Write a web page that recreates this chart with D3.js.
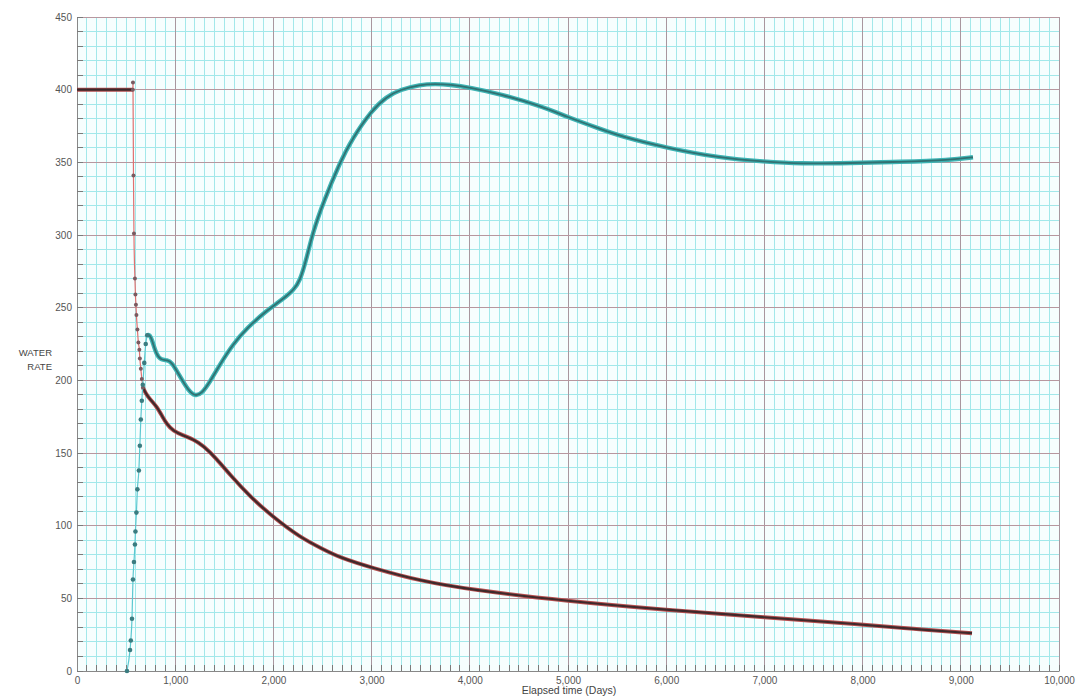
<!DOCTYPE html>
<html><head><meta charset="utf-8">
<script src="https://cdn.jsdelivr.net/npm/d3@7"></script>
<style>body{margin:0;background:#fff;}svg{display:block;font-family:"Liberation Sans",Arial,sans-serif;}</style>
</head><body><svg id="c" width="1079" height="696"></svg>
<script>
// ---- data ----
const xTickValues = [0,1000,2000,3000,4000,5000,6000,7000,8000,9000,10000];
const yTickValues = [0,50,100,150,200,250,300,350,400,450];
const xTitle = "Elapsed time (Days)";
const yTitle = ["WATER","RATE"];

// red / brown series
const redDays = [0,569,570,575,580,590,595,600,605,615,625,635,640,650,660,672,700,743,812,870,914,980,1083,1185,1287,1422,1558,1762,1996,2271,2500,2678,3004,3493,4002,5000,6000,7000,8000,8500,9114];
const redRate = [400,400,405,341,301,270,259,252,245,235,226,221,215,208,201,195,191,187,182,175,170,165,162,159.5,155,146,135,120,106,92,84,78,71,62,56,48,42,37,32,29,26];

// cyan series
const cyanDays = [509,540,548,560,570,580,590,595,605,615,630,640,650,660,670,685,700,715,735,760,810,860,920,965,1046,1134,1202,1273,1354,1456,1590,1729,1933,2037,2135,2200,2271,2342,2403,2505,2678,2800,3004,3150,3289,3493,3650,3798,4002,4308,4715,5000,5326,5530,6000,6548,7000,7362,7872,8381,8890,9124];
const cyanRate = [0,14.5,21,36,63,75,87,96,109,125,138,155,173,186,197,212,225,231,231.5,229,217,214,214,212.5,203,193,189,191,199,211,225,236,248,253,258,262,268,285,302,322,350,366,386,395,400,403.5,404,403.5,401.5,397,389,381,373,368,360,353,350.5,349,349.5,350.3,351.5,353.5];

// ---- layout ----
const svg = d3.select("#c");
const L = 77, R = 1059, T = 17, B = 671;
const x = d3.scaleLinear().domain([0,10000]).range([L,R]);
const y = d3.scaleLinear().domain([0,450]).range([B,T]);

svg.append("rect").attr("x",L).attr("y",T).attr("width",R-L).attr("height",B-T).attr("fill","#f6fefe");
const g = svg.append("g");
// minor grid (cyan)
g.append("g").selectAll("line").data(d3.range(0,10001,100)).join("line")
  .attr("x1",d=>x(d)).attr("x2",d=>x(d)).attr("y1",T).attr("y2",B)
  .attr("stroke","#a2e8ea").attr("stroke-width",1).attr("shape-rendering","crispEdges");
g.append("g").selectAll("line").data(d3.range(0,451,10)).join("line")
  .attr("y1",d=>y(d)).attr("y2",d=>y(d)).attr("x1",L).attr("x2",R)
  .attr("stroke","#a2e8ea").attr("stroke-width",1).attr("shape-rendering","crispEdges");
// major grid
g.append("g").selectAll("line").data(xTickValues).join("line")
  .attr("x1",d=>x(d)).attr("x2",d=>x(d)).attr("y1",T).attr("y2",B)
  .attr("stroke","#a8979f").attr("stroke-width",1).attr("shape-rendering","crispEdges");
g.append("g").selectAll("line").data(yTickValues).join("line")
  .attr("y1",d=>y(d)).attr("y2",d=>y(d)).attr("x1",L).attr("x2",R)
  .attr("stroke","#b7979f").attr("stroke-width",1).attr("shape-rendering","crispEdges");

// axes
const fmt = d3.format(",");
const xAxis = d3.axisBottom(x).tickValues(xTickValues).tickFormat(fmt).tickSize(0).tickPadding(6);
const ax = svg.append("g").attr("transform",`translate(0,${B})`).call(xAxis);
ax.select(".domain").attr("stroke","#888");
ax.selectAll("text").attr("fill","#555").attr("font-size",10).attr("font-family","Liberation Sans, Arial, sans-serif");
svg.append("g").selectAll("line").data(d3.range(0,10001,100)).join("line")
  .attr("x1",d=>x(d)).attr("x2",d=>x(d)).attr("y1",B).attr("y2",B-6)
  .attr("stroke","#7a7a7a").attr("shape-rendering","crispEdges");

const yAxis = d3.axisLeft(y).tickValues(yTickValues).tickSize(0).tickPadding(5);
const ay = svg.append("g").attr("transform",`translate(${L},0)`).call(yAxis);
ay.select(".domain").attr("stroke","#888");
ay.selectAll("text").attr("fill","#555").attr("font-size",10).attr("font-family","Liberation Sans, Arial, sans-serif");
svg.append("g").selectAll("line").data(d3.range(0,451,10)).join("line")
  .attr("y1",d=>y(d)).attr("y2",d=>y(d)).attr("x1",L).attr("x2",L+6)
  .attr("stroke","#7a7a7a").attr("shape-rendering","crispEdges");

// titles
svg.append("text").attr("x",569).attr("y",694).attr("text-anchor","middle")
  .attr("font-size",10.5).attr("fill","#444").text(xTitle);
svg.selectAll(".yt").data(yTitle).join("text").attr("class","yt")
  .attr("x",52).attr("y",(d,i)=>356+i*13.5).attr("text-anchor","end")
  .attr("font-size",9.5).attr("fill","#444").text(d=>d);

// ---- series ----
const red = redDays.map((d,i)=>[d,redRate[i]]);
const cyan = cyanDays.map((d,i)=>[d,cyanRate[i]]);
const line = d3.line().x(d=>x(d[0])).y(d=>y(d[1])).curve(d3.curveMonotoneX);
const smooth = d3.line().x(d=>x(d[0])).y(d=>y(d[1])).curve(d3.curveBasis);

const redEarly = red.filter(d=>d[0]>=569 && d[0]<=672);
const redLate = red.filter(d=>d[0]>=672);
const redFlat = red.filter(d=>d[0]<=569);
const cyanEarly = cyan.filter(d=>d[0]<=715);
const cyanLate = cyan.filter(d=>d[0]>=715);

svg.append("path").datum(redEarly).attr("d",line).attr("fill","none")
  .attr("stroke","#e07070").attr("stroke-width",1.2);
svg.append("path").datum(redFlat).attr("d",line).attr("fill","none")
  .attr("stroke","#b04c4c").attr("stroke-width",4);
svg.append("path").datum(redFlat).attr("d",line).attr("fill","none")
  .attr("stroke","#3b2a2c").attr("stroke-width",2.2);
svg.append("path").datum(redLate).attr("d",smooth).attr("fill","none")
  .attr("stroke","#b65050").attr("stroke-width",4);
svg.append("path").datum(redLate).attr("d",smooth).attr("fill","none")
  .attr("stroke","#3e2a2c").attr("stroke-width",2.2);

svg.append("path").datum(cyanEarly).attr("d",line).attr("fill","none")
  .attr("stroke","#5cc8d0").attr("stroke-width",1.2);
svg.append("path").datum(cyanLate).attr("d",smooth).attr("fill","none")
  .attr("stroke","#3eb4b4").attr("stroke-width",4.4);
svg.append("path").datum(cyanLate).attr("d",smooth).attr("fill","none")
  .attr("stroke","#2c5456").attr("stroke-width",1.8).attr("opacity",0.7);

// markers
svg.append("g").selectAll("circle").data(redEarly).join("circle")
  .attr("cx",d=>x(d[0])).attr("cy",d=>y(d[1])).attr("r",2)
  .attr("fill","#7a5a60");
svg.append("g").selectAll("circle").data(cyanEarly).join("circle")
  .attr("cx",d=>x(d[0])).attr("cy",d=>y(d[1])).attr("r",2.3)
  .attr("fill","#3a7c80");
</script></body></html>
